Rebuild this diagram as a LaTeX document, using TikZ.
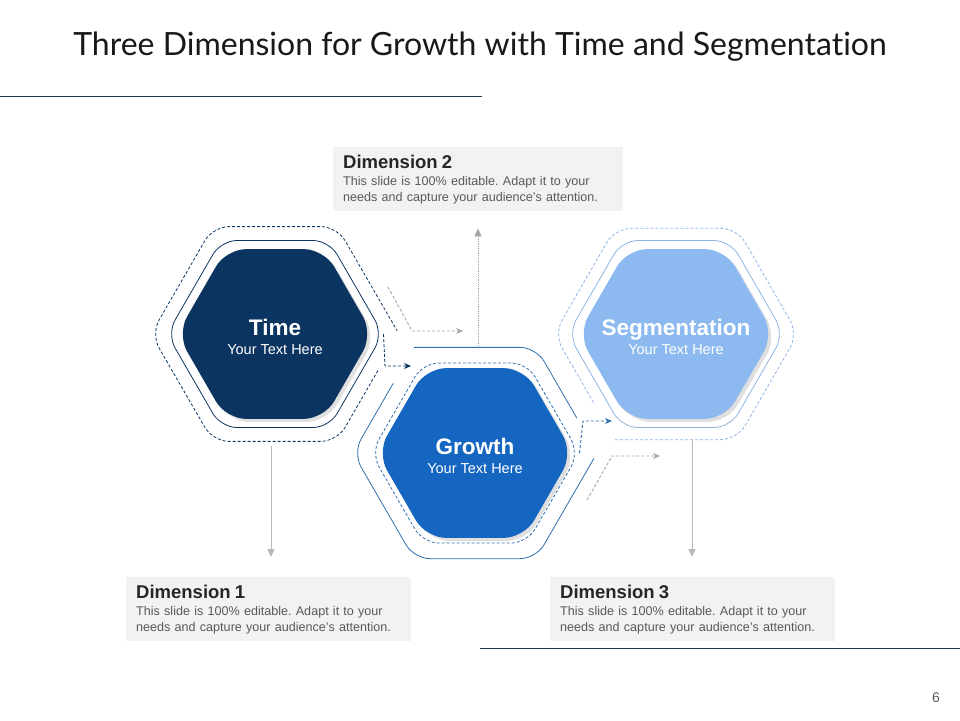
\documentclass[tikz,border=0pt]{standalone}
\usepackage{fontspec}
\setmainfont{Liberation Sans}
\newfontfamily\titlefont[Ligatures=NoCommon]{Lato}
\usepackage{tikz}
\usetikzlibrary{shapes.geometric, arrows.meta, calc, shadows}
\definecolor{navy}{HTML}{0C3461}
\definecolor{midblue}{HTML}{1566C0}
\definecolor{lightblue}{HTML}{8BB9F0}
\definecolor{ringblue}{HTML}{2E6FB0}
\definecolor{ringlight}{HTML}{8FB4E3}
\definecolor{arrowgray}{HTML}{A6A6A6}
\definecolor{boxgray}{HTML}{F2F2F2}
\definecolor{rulecol}{HTML}{22384F}
\frenchspacing

\begin{document}
\begin{tikzpicture}[x=1pt, y=-1pt,
            hexfill/.style={regular polygon, regular polygon sides=6, minimum size=196pt, inner sep=0pt, rounded corners=20pt, drop shadow={shadow xshift=3pt, shadow yshift=-3pt, opacity=0.25}},
            hextext/.style={text=white, align=center, inner sep=0pt, font=\fontsize{14.5}{19.5}\selectfont},
            hexring/.style={regular polygon, regular polygon sides=6, inner sep=0pt, rounded corners=16pt, draw, line width=0.8pt},
            ringline/.style={rounded corners=16pt, line width=0.8pt},
            dashring/.style={dash pattern=on 3pt off 2pt},
            dimbox/.style={rectangle, fill=boxgray, minimum width=285pt, minimum height=64pt, text width=265pt, align=left, inner sep=0pt, anchor=north west, text=black!65, font=\fontsize{12.6}{16}\selectfont},
            grayarrow/.style={draw=arrowgray, line width=0.8pt, -{Triangle[length=8pt, width=7pt]}},
            flowarrow/.style={line width=0.9pt, dash pattern=on 3pt off 2pt, -{Stealth[length=7pt, width=6pt]}}]
    \useasboundingbox (0,0) rectangle (960,720);

    % title and rules
    \node[font=\titlefont\fontsize{32}{38}\selectfont, text=black!90] (title) at (480,47) {Three Dimension for Growth with Time and Segmentation};
    \draw[rulecol, line width=0.8pt] (0,96) -- (482,96);
    \draw[rulecol, line width=0.8pt] (480,648) -- (960,648);
    \node[font=\fontsize{14}{16}\selectfont, text=black!65] (pagenum) at (936,698) {6};

    % outer rings
    \begin{scope}[shift={(275,334)}]
        \draw[navy, ringline, dashring] ($(0:124)!.34!(60:124)$) -- (60:124) -- (120:124) -- (180:124) -- (240:124) -- (300:124) -- ($(0:124)!.03!(300:124)$);
    \end{scope}
    \begin{scope}[shift={(475,453)}]
        \draw[ringblue, ringline] (240:122) -- (300:122) -- ($(300:122)!.67!(0:122)$);
        \draw[ringblue, ringline] ($(0:122)!.05!(60:122)$) -- (60:122) -- (120:122) -- (180:122) -- ($(180:122)!.66!(240:122)$);
    \end{scope}
    \begin{scope}[shift={(676,334)}]
        \draw[ringlight, ringline, dashring] (120:122) -- (60:122) -- (0:122) -- (300:122) -- (240:122) -- (180:122) -- ($(180:122)!.65!(120:122)$);
    \end{scope}

    % inner rings
    \node[hexring, draw=navy, minimum size=216pt] (timering) at (275,334) {};
    \node[hexring, draw=ringblue, dashring, minimum size=208pt] (growthring) at (475,453) {};
    \node[hexring, draw=ringlight, minimum size=216pt] (segring) at (676,334) {};

    % hexagons
    \node[hexfill, fill=navy] (time) at (275,334) {};
    \node[hexfill, fill=midblue] (growth) at (475,453) {};
    \node[hexfill, fill=lightblue] (seg) at (676,334) {};
    \node[hextext] (timetext) at ($(time)+(0,3)$) {{\bfseries\fontsize{22.5}{22}\selectfont Time}\\Your Text Here};
    \node[hextext] (growthtext) at ($(growth)+(0,3)$) {{\bfseries\fontsize{22.5}{22}\selectfont Growth}\\Your Text Here};
    \node[hextext] (segtext) at ($(seg)+(0,3)$) {{\bfseries\fontsize{22.5}{22}\selectfont Segmentation}\\Your Text Here};

    % text boxes
    \node[dimbox, minimum width=290pt, text width=270pt] (d2) at (333,147) {{\bfseries\fontsize{18.5}{20}\selectfont\color{black!85}Dimension 2}\\[1pt]This slide is 100\% editable. Adapt it to your\\needs and capture your audience's attention.};
    \node[dimbox] (d1) at (126,577) {{\bfseries\fontsize{18.5}{20}\selectfont\color{black!85}Dimension 1}\\[1pt]This slide is 100\% editable. Adapt it to your\\needs and capture your audience's attention.};
    \node[dimbox] (d3) at (550,577) {{\bfseries\fontsize{18.5}{20}\selectfont\color{black!85}Dimension 3}\\[1pt]This slide is 100\% editable. Adapt it to your\\needs and capture your audience's attention.};

    % arrows
    \coordinate (t1) at (271,446);
    \coordinate (g1) at (478,346);
    \coordinate (s1) at (692,439);
    \coordinate (tg) at (411,366);
    \coordinate (gs) at (612,421);
    \coordinate (a1) at (388,287);
    \coordinate (a2) at (463,331);
    \coordinate (b1) at (587,500);
    \coordinate (b2) at (660,456);

    \draw[grayarrow, draw=arrowgray!80] (t1) -- (t1 |- d1.north) [shorten >=20pt];
    \draw[grayarrow, densely dotted] (g1) -- (g1 |- d2.south) [shorten >=17pt];
    \draw[grayarrow, draw=arrowgray!80] (s1) -- (s1 |- d3.north) [shorten >=20pt];

    \draw[flowarrow, navy] (timering.east) -- ($(tg)+(-26,0)$) -- (tg);
    \draw[flowarrow, ringblue] (growthring.east) -- ($(gs)+(-29,0)$) -- (gs);
    \draw[flowarrow, arrowgray] (a1) -- ($(a2)+(-51,0)$) -- (a2);
    \draw[flowarrow, arrowgray] (b1) -- ($(b2)+(-48,0)$) -- (b2);
\end{tikzpicture}
\end{document}
